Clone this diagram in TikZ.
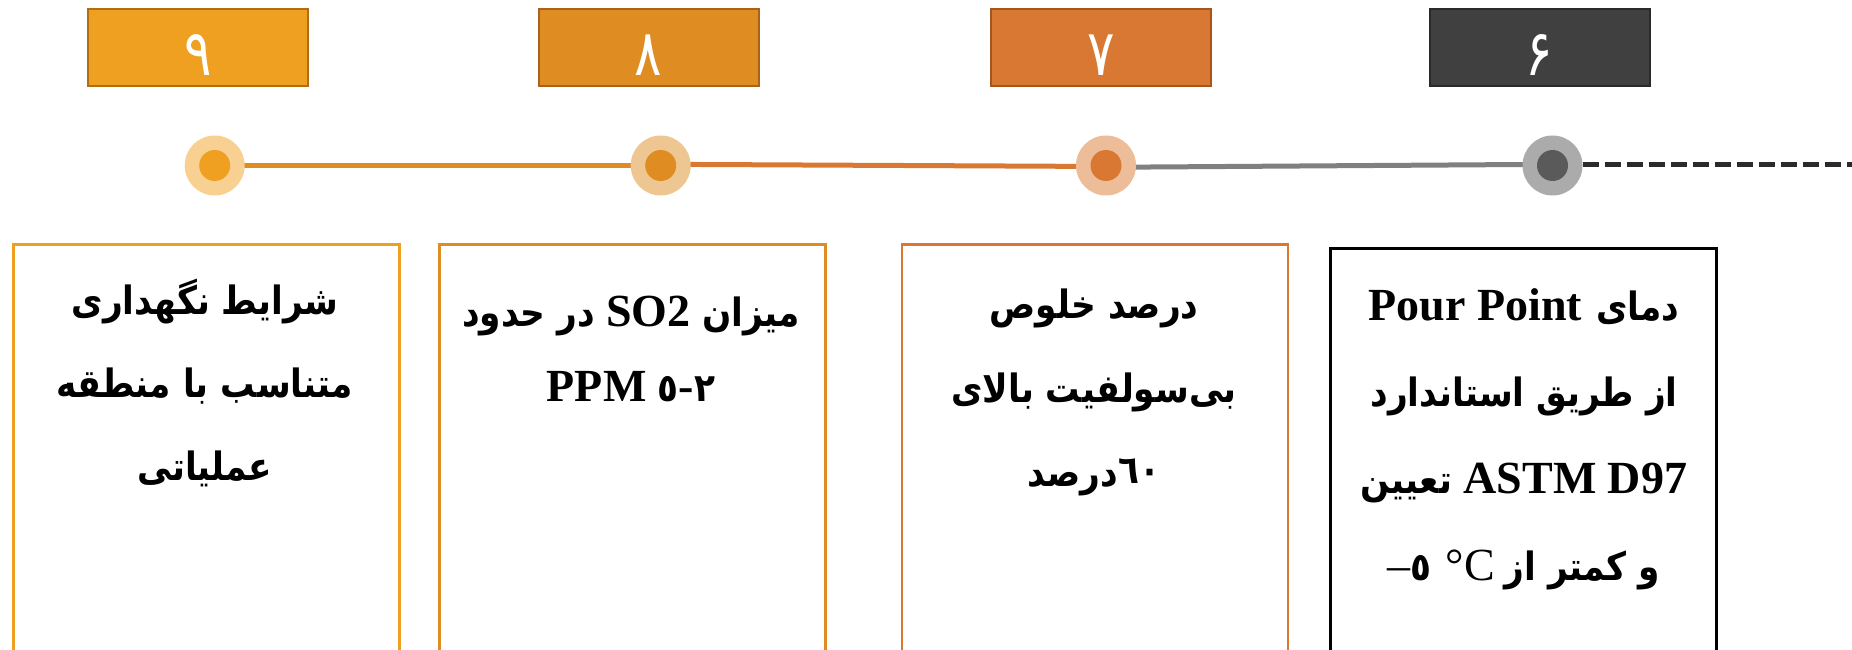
\documentclass[tikz,border=0pt]{standalone}
\usepackage{fontspec}
\setmainfont{Liberation Serif}
\newfontfamily\fafont[Script=Arabic,FakeStretch=0.88]{DejaVu Sans}
\newfontfamily\fadigit[Script=Arabic,FakeStretch=0.8]{DejaVu Sans}
\TeXXeTstate=1
\usetikzlibrary{backgrounds}
\definecolor{k9}{HTML}{F0A020}
\definecolor{k9b}{HTML}{B06E12}
\definecolor{k9l}{HTML}{F8D092}
\definecolor{k8}{HTML}{DF8C22}
\definecolor{k8b}{HTML}{A8621A}
\definecolor{k8l}{HTML}{EEC692}
\definecolor{k7}{HTML}{D97832}
\definecolor{k7b}{HTML}{A5561E}
\definecolor{k7l}{HTML}{EDBC98}
\definecolor{k6}{HTML}{404040}
\definecolor{k6b}{HTML}{2A2A2A}
\definecolor{k6l}{HTML}{ABABAB}
\definecolor{k6d}{HTML}{5A5A5A}
\definecolor{kline}{HTML}{808080}
\definecolor{kdash}{HTML}{2B2B2B}
\newcommand\fa[1]{\mbox{\fafont\bfseries\fontsize{39}{44}\selectfont\beginR #1\endR}}
\newcommand\fanum[1]{\mbox{\fafont\bfseries\fontsize{39}{44}\selectfont #1}}
\tikzset{
  numbox/.style={draw=#1b, line width=2, fill=#1, minimum width=220, minimum height=77, inner sep=0},
  digit/.style={anchor=base, inner sep=0, text=white, font=\fadigit\fontsize{64}{64}\selectfont},
  outer/.style={circle, fill=#1l, minimum size=60, inner sep=0},
  inner/.style={circle, fill=#1, minimum size=31, inner sep=0},
  card/.style={draw=#1, line width=2.5, minimum width=386, minimum height=480, anchor=north west, inner sep=0},
  txt/.style={anchor=base, inner sep=0, font=\fontsize{46}{50}\selectfont\bfseries},
  link/.style={line width=5, color=#1},
}
\begin{document}
\begin{tikzpicture}[x=1pt,y=-1pt]
\useasboundingbox (0,0) rectangle (1852,650);
\clip (0,0) rectangle (1852,650);
% number boxes
\node[numbox=k9] (n9) at (198,47.5) {};
\node[numbox=k8] (n8) at (648.5,47.5) {};
\node[numbox=k7] (n7) at (1101,47.5) {};
\node[numbox=k6] (n6) at (1539.5,47.5) {};
\node[digit] (g9) at (198,76) {۹};
\node[digit] (g8) at (648.5,76) {۸};
\node[digit] (g7) at (1101,76) {۷};
\node[digit] (g6) at (1539.5,76) {۶};
% timeline dots
\node[outer=k9] (c9) at (214.7,165.5) {};
\node[inner=k9] (d9) at (c9) {};
\node[outer=k8] (c8) at (660.7,165.5) {};
\node[inner=k8] (d8) at (c8) {};
\node[outer=k7] (c7) at (1106,165.5) {};
\node[inner=k7] (d7) at (c7) {};
\node[outer=k6] (c6) at (1552.5,165.5) {};
\node[inner=k6d] (d6) at (c6) {};
\coordinate (dashend) at (1860,164.3);
\begin{pgfonlayer}{background}
\draw[link=k8] (c9.center) -- (c8.center);
\draw[link=k7] ([yshift=1.2]c8.center) -- ([yshift=-1]c7.center);
\draw[link=kline] ([yshift=-1.8]c7.center) -- ([yshift=1.2]c6.center);
\end{pgfonlayer}
\draw[line width=5, color=kdash, dash pattern=on 16 off 6] ([yshift=1.2]c6.east) -- (dashend);
% cards
\node[card=k9] (b9) at (12,243) {};
\node[card=k8] (b8) at (438,243) {};
\node[card=k7] (b7) at (900.5,243) {};
\node[card=black, line width=3] (b6) at (1329,247) {};
% card 9 text
\node[txt] (t9a) at (205,314) {\fa{شرایط نگهداری}};
\node[txt] (t9b) at (205,397) {\fa{متناسب با منطقه}};
\node[txt] (t9c) at (205,480) {\fa{عملیاتی}};
% card 8 text
\node[txt] (t8a) at (631,326) {\fa{در حدود} SO2 \fa{میزان}};
\node[txt] (t8b) at (631,401) {PPM \fanum{٥}\mbox{-}\fanum{۲}};
% card 7 text
\node[txt] (t7a) at (1094,318) {\fa{درصد خلوص}};
\node[txt] (t7b) at (1094,402) {\fa{بی‌سولفیت بالای}};
\node[txt] (t7c) at (1094,486) {\fa{درصد}\raisebox{3pt}{\fanum{٦٠}}};
% card 6 text
\node[txt] (t6a) at (1524,320) {Pour Point\hspace{14pt}\fa{دمای}};
\node[txt] (t6b) at (1524,406) {\fa{از طریق استاندارد}};
\node[txt] (t6c) at (1524,493) {\fa{تعیین} ASTM D97};
\node[txt] (t6d) at (1524,580) {\mbox{\mdseries –}\fanum{٥}\hspace{14pt}{\mdseries °C}\hspace{10pt}\fa{و کمتر از}};
\end{tikzpicture}
\end{document}
